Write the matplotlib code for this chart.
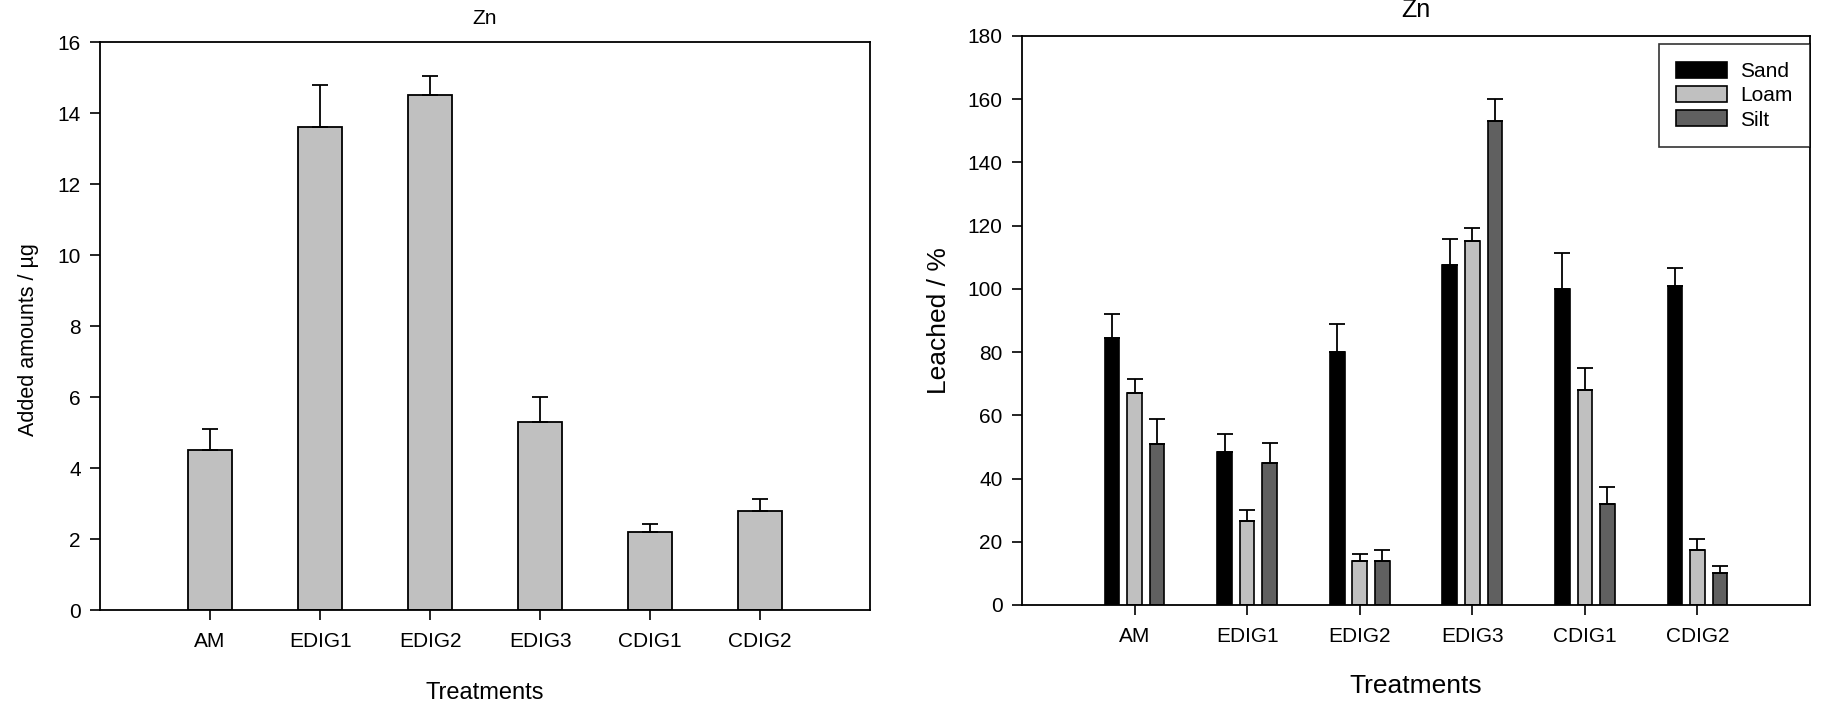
import numpy as np
import matplotlib
matplotlib.use('Agg')
import matplotlib.pyplot as plt
from matplotlib.patches import Patch

plt.rcParams['font.family'] = ['Liberation Sans', 'DejaVu Sans']

treatments = ['AM', 'EDIG1', 'EDIG2', 'EDIG3', 'CDIG1', 'CDIG2']

# left panel: added amounts (ug)
added = [4.5, 13.6, 14.5, 5.3, 2.2, 2.8]
added_err = [0.6, 1.2, 0.55, 0.7, 0.22, 0.33]

# right panel: leached (%)
soils = ['Sand', 'Loam', 'Silt']
sand = [84.5, 48.5, 80.0, 107.5, 100.0, 101.0]
sand_err = [7.5, 5.5, 9.0, 8.3, 11.3, 5.5]
loam = [67.0, 26.5, 14.0, 115.0, 68.0, 17.5]
loam_err = [4.5, 3.5, 2.0, 4.3, 7.0, 3.3]
silt = [51.0, 45.0, 14.0, 153.0, 32.0, 10.0]
silt_err = [7.7, 6.2, 3.3, 7.0, 5.2, 2.2]

soil_colors = ['#000000', '#c0c0c0', '#606060']

fig = plt.figure(figsize=(18.23, 7.01), dpi=100)
ax1 = fig.add_axes([0.0549, 0.1298, 0.4224, 0.810])
ax2 = fig.add_axes([0.5606, 0.137, 0.4323, 0.8117])

x = np.arange(len(treatments))


def style_axes(ax):
    for s in ax.spines.values():
        s.set_linewidth(1.3)
    ax.tick_params(axis='both', direction='out', length=7, width=1.2,
                   labelsize=15, top=False, right=False)
    ax.tick_params(axis='x', pad=9)
    ax.tick_params(axis='y', pad=7)
    ax.set_xlim(-1, 6)
    ax.set_xticks(x)
    ax.set_xticklabels(treatments)


# left chart
ax1.bar(x, added, width=0.4, color='#c0c0c0', edgecolor='black', linewidth=1.3, zorder=2)
ax1.errorbar(x, added, yerr=[np.zeros(len(added)), added_err], fmt='none',
             ecolor='black', elinewidth=1.3, capsize=6, capthick=1.3, zorder=3)
ax1.set_ylim(0, 16)
ax1.set_yticks(np.arange(0, 17, 2))
style_axes(ax1)
ax1.set_title('Zn', fontsize=15, pad=13)
ax1.set_ylabel('Added amounts / µg', fontsize=15.5, labelpad=13)
ax1.yaxis.label.set_y(0.477)
ax1.set_xlabel('Treatments', fontsize=17, labelpad=22)

# right chart
offsets = [-0.2, 0.0, 0.2]
series = [(sand, sand_err), (loam, loam_err), (silt, silt_err)]
for (vals, errs), off, col in zip(series, offsets, soil_colors):
    ax2.bar(x + off, vals, width=0.13, color=col, edgecolor='black', linewidth=1.2, zorder=2)
    ax2.errorbar(x + off, vals, yerr=[np.zeros(len(vals)), errs], fmt='none',
                 ecolor='black', elinewidth=1.3, capsize=6, capthick=1.3, zorder=3)
ax2.set_ylim(0, 180)
ax2.set_yticks(np.arange(0, 181, 20))
style_axes(ax2)
ax2.set_title('Zn', fontsize=18, pad=14)
ax2.set_ylabel('Leached / %', fontsize=19, labelpad=12)
ax2.set_xlabel('Treatments', fontsize=19, labelpad=20)

handles = [Patch(facecolor=c, edgecolor='black', linewidth=1.2) for c in soil_colors]
leg = ax2.legend(handles, soils, loc='upper right', bbox_to_anchor=(1.0, 0.986),
                 borderaxespad=0, fontsize=15, frameon=True, fancybox=False,
                 handlelength=2.45, handleheight=0.8, labelspacing=0.25,
                 borderpad=0.85, handletextpad=0.6)
leg.get_frame().set_edgecolor('black')
leg.get_frame().set_linewidth(1.2)

fig.savefig('out.png', dpi=100)
